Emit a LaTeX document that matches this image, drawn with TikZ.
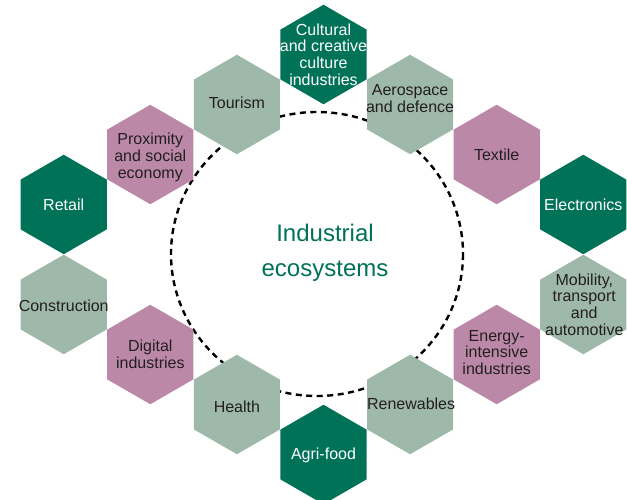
\documentclass[tikz,border=0pt]{standalone}
\usepackage{fontspec}
\setmainfont{Liberation Sans}
\usetikzlibrary{shapes.geometric}
\definecolor{darkgreen}{RGB}{0,114,88}
\definecolor{sage}{RGB}{158,185,170}
\definecolor{mauve}{RGB}{188,136,168}
\definecolor{ink}{RGB}{35,31,32}
\tikzset{
  hex/.style={regular polygon, regular polygon sides=6, shape border rotate=30,
    minimum size=99.5pt, inner sep=0pt, outer sep=0pt, draw=none},
  hexdark/.style={hex, fill=darkgreen},
  hexsage/.style={hex, fill=sage},
  hexmauve/.style={hex, fill=mauve},
  hextext/.style={align=center, inner sep=0pt, font=\fontsize{16pt}{16.8pt}\selectfont, text=ink},
  hextextlight/.style={hextext, text=white},
  ring/.style={draw=black, line width=2.4pt, dash pattern=on 6pt off 4.5pt},
  title/.style={align=center, text=darkgreen, font=\fontsize{24pt}{35pt}\selectfont}
}
\begin{document}
\begin{tikzpicture}[x=1pt,y=-1pt]
\useasboundingbox (0,0) rectangle (627,500);
\draw[ring] (317,254) ellipse [x radius=146, y radius=142];
\node[title] (title) at (325,253) {Industrial\\ecosystems};
% hexagons
\node[hexdark]  (cult)   at (323.5,54.5) {};
\node[hexsage]  (tour)   at (236.9,104.5) {};
\node[hexsage]  (aero)   at (410.1,104.5) {};
\node[hexmauve] (prox)   at (150.3,154.5) {};
\node[hexmauve] (texti)  at (496.7,154.5) {};
\node[hexdark]  (retail) at (63.7,204.5) {};
\node[hexdark]  (elec)   at (583.3,204.5) {};
\node[hexsage]  (constr) at (63.7,304.5) {};
\node[hexsage]  (mob)    at (583.3,304.5) {};
\node[hexmauve] (dig)    at (150.3,354.5) {};
\node[hexmauve] (energy) at (496.7,354.5) {};
\node[hexsage]  (health) at (236.9,404.5) {};
\node[hexsage]  (renew)  at (410.1,404.5) {};
\node[hexdark]  (agri)   at (323.5,454.5) {};
% labels
\node[hextextlight] (tcult) at (cult) {Cultural\\and creative\\culture\\industries};
\node[hextext] (ttour) at ([yshift=2pt]tour) {Tourism};
\node[hextext] (taero) at ([yshift=6pt]aero) {Aerospace\\and defence};
\node[hextext] (tprox) at ([yshift=-3pt]prox) {Proximity\\and social\\economy};
\node[hextext] (ttext) at (texti) {Textile};
\node[hextextlight] (tretail) at (retail) {Retail};
\node[hextextlight] (telec) at (elec) {Electronics};
\node[hextext] (tconstr) at ([yshift=-1pt]constr) {Construction};
\node[hextext] (tmob) at ([xshift=1pt]mob) {Mobility,\\transport\\and\\automotive};
\node[hextext] (tdig) at (dig) {Digital\\industries};
\node[hextext] (tenergy) at ([yshift=2pt]energy) {Energy-\\intensive\\industries};
\node[hextext] (thealth) at ([yshift=-2pt]health) {Health};
\node[hextext] (trenew) at ([yshift=1pt,xshift=1pt]renew) {Renewables};
\node[hextextlight] (tagri) at ([yshift=-1pt]agri) {Agri-food};
\end{tikzpicture}
\end{document}
